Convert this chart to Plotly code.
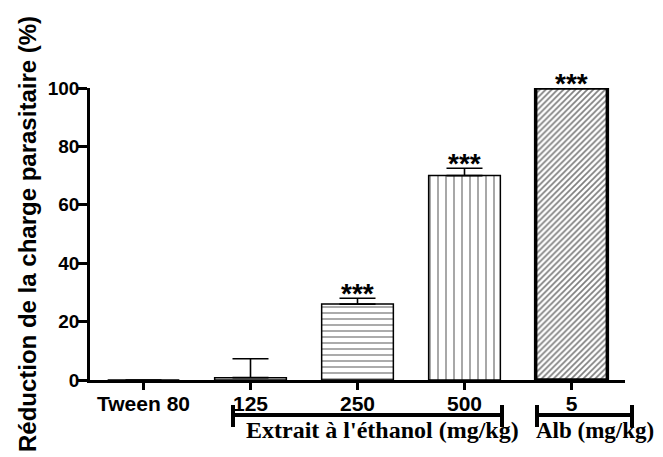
import plotly.graph_objects as go

categories = ["Tween 80", "125", "250", "500", "5"]
values = [0, 0.8, 26, 70, 100]
errors = [0, 6.5, 2, 2.5, 0]
stars = ["", "", "***", "***", "***"]
patterns = ["", "", "-", "|", "/"]
pattern_sizes = [6, 6, 6, 8, 4.2]
pattern_solidity = [0.2, 0.2, 0.22, 0.17, 0.4]
line_widths = [1.5, 1.5, 1.5, 1.5, 3.5]
group_labels = ["Extrait à l'éthanol (mg/kg)", "Alb (mg/kg)"]
y_title = "Réduction de la charge parasitaire (%)"

SANS = "Arial, Liberation Sans"
SERIF = "Liberation Serif, Times New Roman"

# the page body has an 8px margin: figure is shrunk by it so the plot lands where the reference has it
OFF = 8

fig = go.Figure()
fig.add_trace(go.Bar(
    x=categories, y=values, width=0.67,
    marker=dict(
        color="white",
        line=dict(color="black", width=line_widths),
        pattern=dict(shape=patterns, size=pattern_sizes, solidity=pattern_solidity,
                     fgcolor="black", bgcolor="white", fillmode="overlay"),
    ),
    error_y=dict(type="data", array=errors, arrayminus=[0]*len(errors), symmetric=False,
                 color="black", thickness=1.6, width=18),
    showlegend=False,
))

for i, (v, e, s) in enumerate(zip(values, errors, stars)):
    if s:
        fig.add_annotation(xref="x", yref="y", x=i, y=v + e, text=s, showarrow=False, yanchor="bottom",
                           xanchor="center", yshift=-13,
                           font=dict(family=SANS, size=28, color="black", weight="bold"))

# group brackets
brackets = [(0.2673, 0.7701), (0.8355, 1.0131)]
label_x = [0.546, 0.943]
label_sizes = [24, 23]
for (x0, x1), lab, lx, fs in zip(brackets, group_labels, label_x, label_sizes):
    fig.add_shape(type="line", xref="paper", yref="paper", x0=x0, x1=x1, y0=-0.1199, y1=-0.1199,
                  line=dict(color="black", width=4))
    for xx in (x0, x1):
        fig.add_shape(type="line", xref="paper", yref="paper", x0=xx, x1=xx, y0=-0.0856, y1=-0.161,
                      line=dict(color="black", width=4))
    fig.add_annotation(xref="paper", yref="paper", x=lx, y=-0.223, text=lab, xanchor="center",
                       showarrow=False, font=dict(family=SERIF, size=fs, color="black", weight="bold"))

fig.update_layout(
    width=663 - OFF, height=457 - OFF,
    margin=dict(l=90 - OFF, r=38, t=88 - OFF, b=77),
    paper_bgcolor="white", plot_bgcolor="white",
    font=dict(family=SANS, color="black"),
)
fig.update_xaxes(
    range=[-0.5, 4.5], showline=True, linecolor="black", linewidth=2.5,
    ticks="outside", ticklen=7, tickwidth=2.5, tickcolor="black",
    tickfont=dict(family=SANS, size=21, color="black", weight="bold"),
    ticklabelstandoff=-4,
    showgrid=False, zeroline=False, automargin=False,
)
fig.update_yaxes(
    range=[0, 100], showline=True, linecolor="black", linewidth=2.5,
    ticks="outside", ticklen=9, tickwidth=2.5, tickcolor="black",
    tickvals=[0, 20, 40, 60, 80, 100],
    tickfont=dict(family=SANS, size=19, color="black", weight="bold"),
    ticklabelstandoff=-5,
    showgrid=False, zeroline=False, automargin=False,
    title=dict(text=y_title, font=dict(family=SANS, size=24, color="black", weight="bold"), standoff=5),
)
fig.write_html("out.html")
